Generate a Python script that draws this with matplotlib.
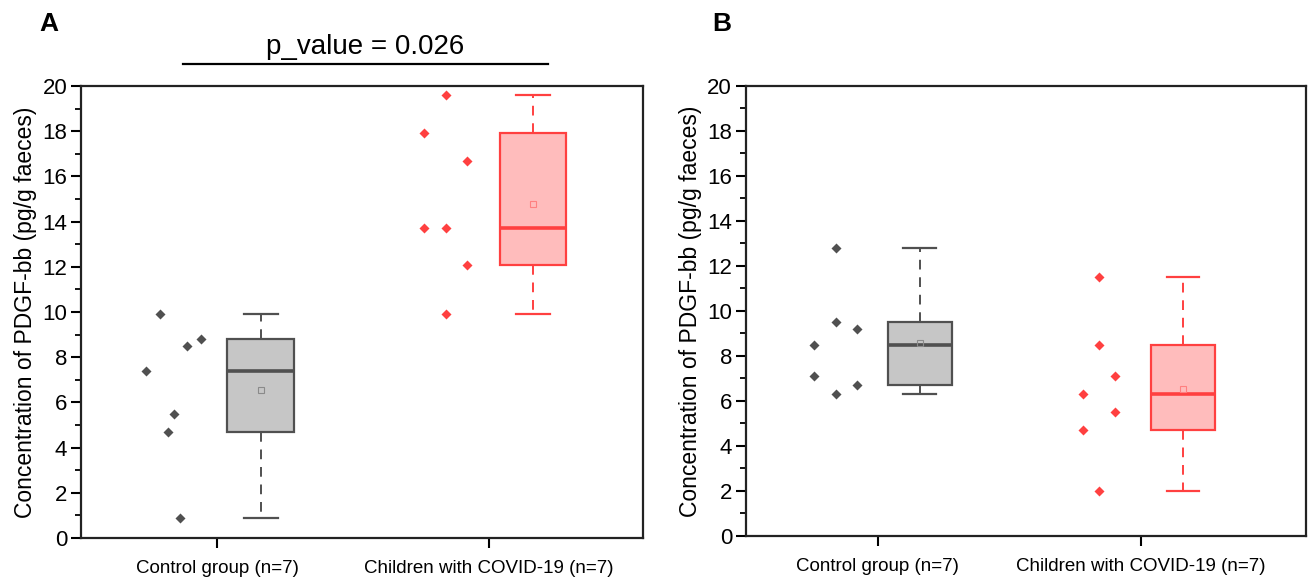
import numpy as np
import matplotlib
matplotlib.use("Agg")
import matplotlib.pyplot as plt
from matplotlib.ticker import MultipleLocator

plt.rcParams["font.family"] = ["Liberation Sans", "DejaVu Sans"]

# ── Data ─────────────────────────────────────────────────────────────────────
groups = ["Control group (n=7)", "Children with COVID-19 (n=7)"]
ylabel = "Concentration of PDGF-bb (pg/g faeces)"

a_control = [9.9, 8.8, 8.5, 7.4, 5.5, 4.7, 0.9]
a_covid   = [19.6, 17.9, 16.7, 13.7, 13.7, 12.1, 9.9]
b_control = [12.8, 9.5, 9.2, 8.5, 7.1, 6.7, 6.3]
b_covid   = [11.5, 8.5, 7.1, 6.3, 5.5, 4.7, 2.0]
p_text = "p_value = 0.026"

# horizontal scatter of the raw points (layout only)
a_control_dx = [0.79, 0.94, 0.89, 0.74, 0.84, 0.82, 0.865]
a_covid_dx   = [1.84, 1.76, 1.92, 1.76, 1.84, 1.92, 1.84]
b_control_dx = [0.84, 0.84, 0.92, 0.76, 0.76, 0.92, 0.84]
b_covid_dx   = [1.84, 1.84, 1.90, 1.78, 1.90, 1.78, 1.84]

GREY = dict(edge="#505050", fill="#c6c6c6", mean="#8a8a8a")
RED  = dict(edge="#ff4040", fill="#ffbcbc", mean="#ff8080")


def stats(vals):
    v = np.asarray(vals, float)
    q1, med, q3 = np.percentile(v, [25, 50, 75], method="weibull")
    return dict(med=med, q1=q1, q3=q3, whislo=v.min(), whishi=v.max(),
                mean=v.mean(), fliers=[])


def draw_box(ax, vals, pos, col):
    ax.bxp([stats(vals)], positions=[pos], widths=0.243, patch_artist=True,
           showmeans=True, showfliers=False, manage_ticks=False,
           boxprops=dict(facecolor=col["fill"], edgecolor=col["edge"], lw=1.6),
           medianprops=dict(color=col["edge"], lw=2.6),
           whiskerprops=dict(color=col["edge"], lw=1.4, ls=(0, (5, 4))),
           capprops=dict(color=col["edge"], lw=1.6),
           capwidths=0.125,
           meanprops=dict(marker="s", markersize=5, markerfacecolor="none",
                          markeredgecolor=col["mean"], markeredgewidth=0.8))


def panel(ax, ctrl, ctrl_dx, cov, cov_dx, xmax):
    ax.scatter(ctrl_dx, ctrl, marker="D", s=26, color=GREY["edge"], zorder=3, lw=0)
    ax.scatter(cov_dx, cov, marker="D", s=26, color=RED["edge"], zorder=3, lw=0)
    draw_box(ax, ctrl, 1.16, GREY)
    draw_box(ax, cov, 2.16, RED)

    ax.set_xlim(0.5, xmax)
    ax.set_ylim(0, 20)
    ax.set_xticks([1, 2])
    ax.set_xticklabels(groups, fontsize=13.5)
    ax.yaxis.set_major_locator(MultipleLocator(2))
    ax.yaxis.set_minor_locator(MultipleLocator(1))
    ax.tick_params(axis="y", which="major", direction="out", length=7, width=1.5,
                   labelsize=16, pad=3)
    ax.tick_params(axis="y", which="minor", direction="out", length=4, width=1.3)
    ax.tick_params(axis="x", direction="out", length=7, width=1.5, pad=9)
    for s in ax.spines.values():
        s.set_linewidth(1.6)
        s.set_color("#222222")
    ax.set_ylabel(ylabel, fontsize=16.5, labelpad=4)


fig = plt.figure(figsize=(13.09, 5.79), dpi=100)
axA = fig.add_axes([0.0619, 0.0708, 0.4293, 0.7807])
axB = fig.add_axes([0.5699, 0.0743, 0.4278, 0.7772])

panel(axA, a_control, a_control_dx, a_covid, a_covid_dx, 2.566)
panel(axB, b_control, b_control_dx, b_covid, b_covid_dx, 2.627)

# significance bar
axA.plot([0.875, 2.217], [20.97, 20.97], color="black", lw=1.6, clip_on=False)
axA.text(1.546, 21.15, p_text, ha="center", va="bottom", fontsize=20)

fig.text(0.037, 0.958, "A", fontsize=19, fontweight="bold", ha="center", va="center")
fig.text(0.551, 0.958, "B", fontsize=19, fontweight="bold", ha="center", va="center")

fig.savefig("out.png", dpi=100, facecolor="white")
